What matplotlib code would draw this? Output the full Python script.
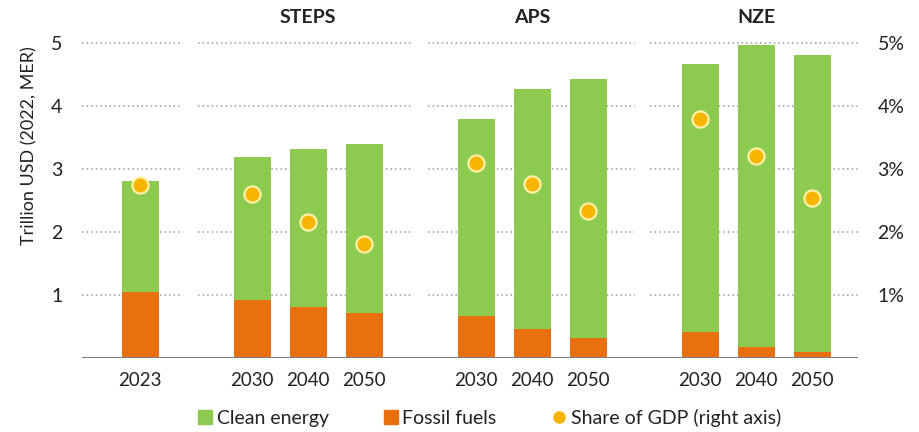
import matplotlib
matplotlib.use("Agg")
import matplotlib.pyplot as plt
from matplotlib.lines import Line2D
from matplotlib.ticker import FuncFormatter

plt.rcParams['font.family'] = ['Lato', 'DejaVu Sans']

# Data
year_labels = ["2023", "2030", "2040", "2050", "2030", "2040", "2050", "2030", "2040", "2050"]
positions = [0, 2, 3, 4, 6, 7, 8, 10, 11, 12]
fossil_fuels = [1.05, 0.92, 0.81, 0.71, 0.67, 0.46, 0.32, 0.41, 0.17, 0.09]
total_investment = [2.81, 3.19, 3.32, 3.40, 3.79, 4.27, 4.43, 4.67, 4.97, 4.81]
clean_energy = [t - f for t, f in zip(total_investment, fossil_fuels)]
gdp_share = [2.75, 2.60, 2.16, 1.81, 3.10, 2.76, 2.33, 3.79, 3.21, 2.54]
scenarios = ["STEPS", "APS", "NZE"]
scenario_centers = [3, 7, 11]

GREEN = "#8DCB50"
ORANGE = "#E8700F"
YELLOW = "#F7B500"
YELLOW_EDGE = "#FFF1A8"
TEXT = "#222222"

fig = plt.figure(figsize=(9.19, 4.32), dpi=100)
ax = fig.add_axes([0.0892, 0.1713, 0.8444, 0.736])
ax2 = ax.twinx()

ymax = 5.05
xmin, xmax = -1.04, 12.82
ax.set_xlim(xmin, xmax)
ax.set_ylim(0, ymax)
ax2.set_ylim(0, ymax)

# Dotted gridlines broken between groups
segments = [(-1.04, 0.77), (1.04, 4.87), (5.14, 8.84), (9.1, 12.82)]
for yv in [1, 2, 3, 4, 5]:
    for a, b in segments:
        ax.plot([a, b], [yv, yv], color="#9A9A9A", lw=1.1,
                linestyle=(0, (1, 2)), zorder=0)

bar_w = 0.66
ax.bar(positions, fossil_fuels, width=bar_w, color=ORANGE, zorder=2)
ax.bar(positions, clean_energy, bottom=fossil_fuels, width=bar_w,
       color=GREEN, zorder=2)
ax.axhline(0, color="#7F7F7F", lw=1.5, zorder=3)

ax2.scatter(positions, gdp_share, s=135, color=YELLOW,
            edgecolor=YELLOW_EDGE, linewidth=1.6, zorder=5)

for spine in list(ax.spines.values()) + list(ax2.spines.values()):
    spine.set_visible(False)

ax.set_yticks([1, 2, 3, 4, 5])
ax.set_yticklabels(["1", "2", "3", "4", "5"])
ax.tick_params(axis="y", length=0, pad=14, labelsize=14, colors=TEXT)
ax2.set_yticks([1, 2, 3, 4, 5])
ax2.yaxis.set_major_formatter(FuncFormatter(lambda v, p: f"{v:.0f}%"))
ax2.tick_params(axis="y", length=0, pad=14, labelsize=14, colors=TEXT)

ax.set_xticks(positions)
ax.set_xticklabels(year_labels)
ax.tick_params(axis="x", length=0, pad=10, labelsize=13.5, colors=TEXT)

ax.set_ylabel("Trillion USD (2022, MER)", fontsize=13, color=TEXT)
ax.yaxis.set_label_coords(-0.057, 0.667)

for name, cx in zip(scenarios, scenario_centers):
    ax.text(cx, 1.07, name, transform=ax.get_xaxis_transform(),
            ha="center", va="center", fontsize=14, fontweight="bold",
            color=TEXT)

handles = [
    Line2D([], [], marker="s", linestyle="none", markersize=10.5,
           markerfacecolor=GREEN, markeredgecolor=GREEN),
    Line2D([], [], marker="s", linestyle="none", markersize=10.5,
           markerfacecolor=ORANGE, markeredgecolor=ORANGE),
    Line2D([], [], marker="o", linestyle="none", markersize=8,
           markerfacecolor=YELLOW, markeredgecolor=YELLOW),
]
labels = ["Clean energy", "Fossil fuels", "Share of GDP (right axis)"]
fig.legend(handles, labels, loc="center", bbox_to_anchor=(0.530, 0.033),
           ncol=3, frameon=False, fontsize=14, handletextpad=0.0,
           handlelength=1.2, columnspacing=2.6, labelcolor=TEXT)

fig.savefig("out.png", dpi=100, facecolor="white")
